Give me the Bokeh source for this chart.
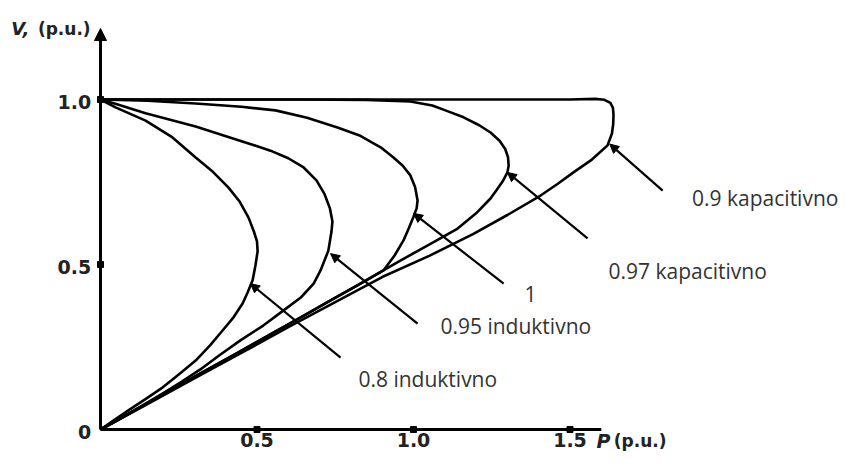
from bokeh.plotting import figure
from bokeh.models import Range1d, Arrow, NormalHead
from bokeh.core.properties import value
from bokeh.embed import file_html
from bokeh.resources import INLINE

# ---------------- data ----------------
# 0.8 induktivno
P_08 = [0, 0.048, 0.144, 0.230, 0.304, 0.360, 0.409, 0.445, 0.473, 0.490, 0.500, 0.502, 0.495, 0.486, 0.470, 0.454, 0.425, 0.390, 0.350, 0.304, 0.250, 0.198, 0.140, 0.089, 0.040, 0]
V_08 = [1.0, 0.976, 0.936, 0.885, 0.824, 0.780, 0.733, 0.690, 0.642, 0.600, 0.570, 0.540, 0.497, 0.452, 0.415, 0.382, 0.340, 0.300, 0.255, 0.209, 0.167, 0.127, 0.090, 0.058, 0.026, 0]
# 0.95 induktivno
P_095 = [0, 0.050, 0.144, 0.304, 0.463, 0.543, 0.600, 0.649, 0.690, 0.715, 0.733, 0.741, 0.738, 0.728, 0.703, 0.681, 0.640, 0.585, 0.520, 0.447, 0.380, 0.319, 0.260, 0.198, 0.140, 0.090, 0.040, 0]
V_095 = [1.0, 0.986, 0.958, 0.918, 0.870, 0.845, 0.822, 0.794, 0.755, 0.715, 0.670, 0.630, 0.600, 0.542, 0.482, 0.442, 0.400, 0.361, 0.315, 0.270, 0.225, 0.182, 0.145, 0.109, 0.076, 0.048, 0.021, 0]
# 1
P_1 = [0, 0.150, 0.304, 0.450, 0.559, 0.660, 0.757, 0.830, 0.895, 0.935, 0.965, 0.990, 1.005, 1.013, 1.010, 1.000, 0.985, 0.968, 0.940, 0.904, 0.820, 0.735, 0.650, 0.559, 0.440, 0.319, 0.160, 0]
V_1 = [1.0, 0.996, 0.988, 0.978, 0.967, 0.945, 0.915, 0.890, 0.855, 0.825, 0.800, 0.770, 0.735, 0.694, 0.670, 0.645, 0.610, 0.573, 0.528, 0.482, 0.436, 0.391, 0.345, 0.297, 0.234, 0.170, 0.085, 0]
# 0.97 kapacitivno
P_097 = [0, 0.400, 0.639, 0.850, 0.990, 1.060, 1.102, 1.160, 1.210, 1.246, 1.275, 1.293, 1.302, 1.304, 1.300, 1.285, 1.265, 1.246, 1.200, 1.141, 1.050, 0.958, 0.830, 0.700, 0.575, 0.450, 0.320, 0.200, 0.100, 0]
V_097 = [1.0, 1.0, 1.0, 0.999, 0.994, 0.982, 0.967, 0.946, 0.922, 0.900, 0.875, 0.850, 0.825, 0.800, 0.779, 0.752, 0.725, 0.700, 0.655, 0.609, 0.560, 0.512, 0.442, 0.372, 0.305, 0.238, 0.170, 0.106, 0.053, 0]
# 0.9 kapacitivno
P_09 = [0, 0.800, 1.500, 1.580, 1.610, 1.629, 1.637, 1.639, 1.638, 1.634, 1.620, 1.570, 1.511, 1.460, 1.406, 1.300, 1.190, 1.050, 0.900, 0.750, 0.600, 0.450, 0.300, 0.150, 0]
V_09 = [1.0, 1.0, 1.0, 1.002, 0.999, 0.990, 0.975, 0.955, 0.925, 0.897, 0.861, 0.818, 0.779, 0.744, 0.709, 0.650, 0.592, 0.526, 0.462, 0.386, 0.310, 0.232, 0.155, 0.077, 0]

curves_P = [P_08, P_095, P_1, P_097, P_09]
curves_V = [V_08, V_095, V_1, V_097, V_09]

curve_labels = ["0.8 induktivno", "0.95 induktivno", "1", "0.97 kapacitivno", "0.9 kapacitivno"]

x_ticks = [0.5, 1.0, 1.5]
x_tick_labels = ["0.5", "1.0", "1.5"]
y_ticks = [0, 0.5, 1.0]
y_tick_labels = ["0", "0.5", "1.0"]

# leader arrows: point on curve -> end near label
arrow_P_curve = [0.479, 0.735, 1.000, 1.300, 1.627]
arrow_V_curve = [0.442, 0.533, 0.655, 0.779, 0.865]
arrow_P_label = [0.767, 1.013, 1.288, 1.556, 1.796]
arrow_V_label = [0.218, 0.321, 0.442, 0.579, 0.724]

# label anchors (data units)
label_P = [0.824, 1.086, 1.374, 1.623, 1.890]
label_V = [0.152, 0.315, 0.412, 0.479, 0.703]
label_align = ["left", "left", "center", "left", "left"]

# ---------------- figure ----------------
p = figure(width=843, height=452, output_backend="svg", toolbar_location=None,
           x_range=Range1d(-0.3195, 2.3738), y_range=Range1d(-0.0697, 1.30),
           x_axis_type=None, y_axis_type=None, min_border=0)
p.outline_line_color = None
p.xgrid.visible = False
p.ygrid.visible = False
p.background_fill_color = "white"

# curves
for P, V in zip(curves_P, curves_V):
    p.line(P, V, line_color="black", line_width=2.6, line_join="round")

# axes
p.segment(x0=[0], y0=[0], x1=[1.60], y1=[0], line_color="black", line_width=3)
p.add_layout(Arrow(x_start=0, y_start=0, x_end=0, y_end=1.215, line_width=3,
                   end=NormalHead(size=12, fill_color="black", line_color="black")))

# tick marks
p.scatter(x_ticks, [0] * len(x_ticks), size=6, marker="square", color="black")
p.scatter([0] * len(y_ticks[1:]), y_ticks[1:], size=6, marker="square", color="black")

# tick labels
p.text(x=x_ticks, y=[-0.032] * len(x_ticks), text=x_tick_labels, text_align="center",
       text_baseline="middle", text_font=value("DejaVu Sans"), text_font_style="bold",
       text_font_size="19px", text_color="#222222")
p.text(x=[-0.030] * len(y_ticks), y=[t - 0.008 for t in y_ticks], text=y_tick_labels,
       text_align="right", text_baseline="middle", text_font=value("DejaVu Sans"),
       text_font_style="bold", text_font_size="19px", text_color="#222222")

# axis titles
p.text(x=[-0.285], y=[1.215], text=["V,"], text_align="left", text_baseline="middle",
       text_font=value("DejaVu Sans"), text_font_style="bold italic", text_font_size="18px",
       text_color="#222222")
p.text(x=[-0.200], y=[1.213], text=["(p.u.)"], text_align="left", text_baseline="middle",
       text_font=value("DejaVu Sans"), text_font_style="bold", text_font_size="17px",
       text_color="#222222")
p.text(x=[1.585], y=[-0.034], text=["P"], text_align="left", text_baseline="middle",
       text_font=value("DejaVu Sans"), text_font_style="bold italic", text_font_size="19px",
       text_color="#222222")
p.text(x=[1.640], y=[-0.036], text=["(p.u.)"], text_align="left", text_baseline="middle",
       text_font=value("DejaVu Sans"), text_font_style="bold", text_font_size="17px",
       text_color="#222222")

# leader arrows
for xc, yc, xl, yl in zip(arrow_P_curve, arrow_V_curve, arrow_P_label, arrow_V_label):
    p.add_layout(Arrow(x_start=xl, y_start=yl, x_end=xc, y_end=yc, line_width=2.2,
                       line_color="black",
                       end=NormalHead(size=9, fill_color="black", line_color="black")))

# curve labels
for txt, x, y, al in zip(curve_labels, label_P, label_V, label_align):
    p.text(x=[x], y=[y], text=[txt], text_align=al, text_baseline="middle",
           text_font=value("Open Sans"), text_font_size="21px", text_color="#333333")

open("out.html", "w").write(file_html(p, INLINE))
